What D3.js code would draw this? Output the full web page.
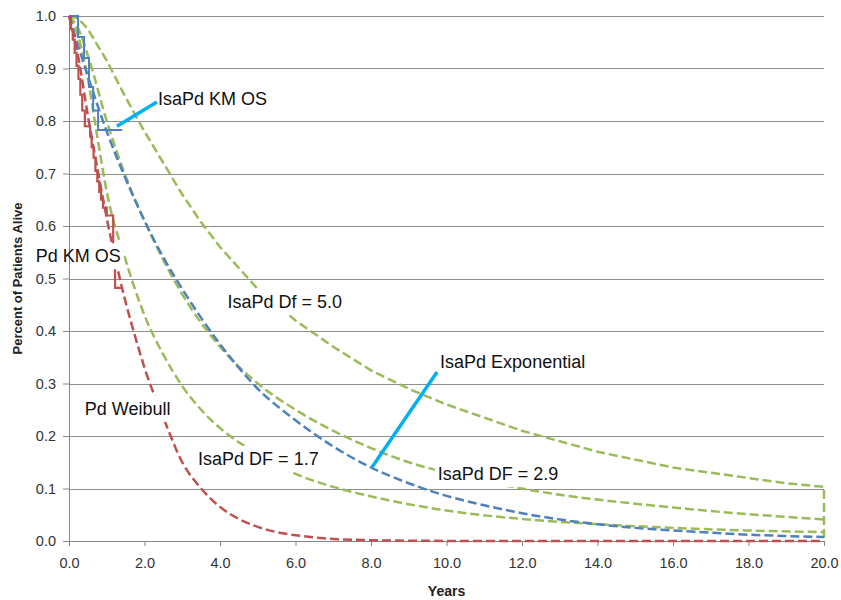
<!DOCTYPE html>
<html lang="en">
<head>
  <meta charset="UTF-8">
  <title>Survival extrapolation</title>
  <script src="https://cdn.jsdelivr.net/npm/d3@7/dist/d3.min.js"></script>
  <style>
  body { margin: 0; background: #fff; }
  svg { font-family: "Liberation Sans", Arial, sans-serif; }
  .tick text { fill: #333; font-size: 14.5px; }
  .axis path, .axis line { stroke: #868686; }
  .grid line { stroke: #8e8e8e; stroke-width: 1; }
  .axis-title { font-weight: bold; fill: #222; }
  .label { font-size: 18px; fill: #111; }
  </style>
</head>
<body>
<div id="chart"></div>
<script>
// [years, proportion alive]
const pdKM = [[0,1],[0.05,0.975],[0.1,0.955],[0.15,0.93],[0.2,0.905],[0.25,0.88],[0.3,0.85],
  [0.35,0.82],[0.42,0.79],[0.56,0.77],[0.6,0.75],[0.65,0.73],[0.7,0.705],[0.75,0.685],
  [0.8,0.665],[0.85,0.65],[0.9,0.635],[1.0,0.62],[1.17,0.55],[1.22,0.482],[1.4,0.482]];
const isaKM = [[0,1],[0.24,0.96],[0.4,0.92],[0.53,0.865],[0.64,0.82],[0.77,0.783],[1.41,0.783]];
const pdWeibull = [[0,1],[0.25,0.92],[0.5,0.81],[0.75,0.71],[1,0.615],[1.25,0.53],[1.5,0.455],
  [1.75,0.39],[2,0.33],[2.5,0.235],[3,0.15],[3.5,0.1],[4,0.065],[4.5,0.042],[5,0.027],
  [5.5,0.017],[6,0.011],[7,0.004],[8,0.0015],[9,0.0005],[10,0.0002],[12,0],[20,0]];
const isaExp = [[0,1],[0.5,0.885],[1,0.78],[1.5,0.69],[2,0.61],[2.5,0.54],[3,0.48],[3.5,0.425],
  [4,0.375],[5,0.29],[6,0.23],[7,0.18],[8,0.14],[9,0.11],[10,0.086],[11,0.068],[12,0.053],
  [13,0.041],[14,0.032],[15,0.025],[16,0.02],[17,0.016],[18,0.012],[19,0.0095],[20,0.0075]];
const df17 = [[0,1],[0.25,0.96],[0.5,0.88],[0.75,0.77],[1,0.665],[1.5,0.535],[2,0.43],[2.5,0.355],
  [3,0.295],[3.5,0.25],[4,0.215],[4.5,0.188],[5,0.165],[6,0.128],[7,0.103],[8,0.085],[9,0.07],
  [10,0.058],[12,0.042],[14,0.032],[16,0.025],[18,0.02],[20,0.017]];
const df29 = [[0,1],[0.25,0.975],[0.5,0.925],[1,0.8],[1.5,0.695],[2,0.61],[3,0.47],[4,0.37],
  [5,0.3],[6,0.25],[7,0.21],[8,0.177],[9,0.15],[10,0.13],[11,0.113],[12,0.1],[13,0.088],
  [14,0.079],[15,0.071],[16,0.064],[17,0.057],[18,0.051],[19,0.046],[20,0.041]];
const df50 = [[0,1],[0.25,0.995],[0.5,0.975],[1,0.915],[1.5,0.845],[2,0.78],[2.5,0.72],[3,0.66],
  [3.5,0.607],[4,0.56],[5,0.48],[6,0.42],[7,0.37],[8,0.325],[9,0.29],[10,0.26],[11,0.235],
  [12,0.21],[13,0.19],[14,0.17],[15,0.155],[16,0.14],[17,0.13],[18,0.12],[19,0.11],[20,0.103],[20,0]];

const xTicks = [0,2,4,6,8,10,12,14,16,18,20];
const yTicks = [0,0.1,0.2,0.3,0.4,0.5,0.6,0.7,0.8,0.9,1.0];

// text labels: left edge / baseline in data units
const labels = [
  { text: 'IsaPd KM OS', t: 2.36, s: 0.83 },
  { text: 'Pd KM OS', t: -0.88, s: 0.531 },
  { text: 'IsaPd Df = 5.0', t: 4.2, s: 0.444 },
  { text: 'IsaPd Exponential', t: 9.83, s: 0.33 },
  { text: 'Pd Weibull', t: 0.42, s: 0.24 },
  { text: 'IsaPd DF = 1.7', t: 3.42, s: 0.145 },
  { text: 'IsaPd DF = 2.9', t: 9.77, s: 0.116 },
];
const leaders = [
  { from: [2.33, 0.836], to: [1.27, 0.79] },
  { from: [9.75, 0.322], to: [8.03, 0.141] },
];

const W = 841, H = 600;
const margin = { top: 16, right: 17, bottom: 59, left: 69 };

const x = d3.scaleLinear().domain([0, 20]).range([margin.left, W - margin.right]);
const y = d3.scaleLinear().domain([0, 1]).range([H - margin.bottom, margin.top]);

const svg = d3.select('#chart').append('svg').attr('width', W).attr('height', H);

// mask so labels cut gaps into the curves (gridlines stay)
const mask = svg.append('defs').append('mask')
  .attr('id', 'label-mask').attr('maskUnits', 'userSpaceOnUse')
  .attr('x', 0).attr('y', 0).attr('width', W).attr('height', H);
mask.append('rect').attr('width', W).attr('height', H).attr('fill', 'white');

// gridlines
svg.append('g').attr('class', 'grid')
  .selectAll('line').data(yTicks.filter(d => d > 0)).join('line')
    .attr('x1', x(0)).attr('x2', x(20))
    .attr('y1', d => Math.round(y(d)) + 0.5).attr('y2', d => Math.round(y(d)) + 0.5);

// axes
svg.append('g').attr('class', 'axis')
  .attr('transform', `translate(0,${y(0)})`)
  .call(d3.axisBottom(x).tickValues(xTicks).tickFormat(d3.format('.1f'))
    .tickSize(5).tickSizeOuter(0).tickPadding(12));
svg.append('g').attr('class', 'axis')
  .attr('transform', `translate(${x(0)},0)`)
  .call(d3.axisLeft(y).tickValues(yTicks).tickFormat(d3.format('.1f'))
    .tickSize(6).tickSizeOuter(0).tickPadding(7));

svg.append('text').attr('class', 'axis-title')
  .attr('x', (x(0) + x(20)) / 2).attr('y', 596)
  .attr('text-anchor', 'middle').attr('font-size', 14)
  .text('Years');
svg.append('text').attr('class', 'axis-title')
  .attr('transform', `translate(22,${(y(0) + y(1)) / 2}) rotate(-90)`)
  .attr('text-anchor', 'middle').attr('font-size', 13)
  .text('Percent of Patients Alive');

// series
const smooth = d3.line().x(d => x(d[0])).y(d => y(d[1])).curve(d3.curveMonotoneX);
const straight = d3.line().x(d => x(d[0])).y(d => y(d[1]));
const step = d3.line().x(d => x(d[0])).y(d => y(d[1])).curve(d3.curveStepAfter);

const series = [
  { data: df17, color: '#9BBB59', line: smooth, dash: '9,4', width: 2.5 },
  { data: df29, color: '#9BBB59', line: smooth, dash: '9,4', width: 2.5 },
  { data: df50, color: '#9BBB59', line: straight, dash: '9,4', width: 2.5 },
  { data: isaExp, color: '#4F81BD', line: smooth, dash: '9,4', width: 2.5 },
  { data: pdWeibull, color: '#C0504D', line: smooth, dash: '9,4', width: 2.5 },
  { data: isaKM, color: '#4F81BD', line: step, dash: null, width: 2 },
  { data: pdKM, color: '#C0504D', line: step, dash: null, width: 2.2 },
];

svg.append('g').attr('mask', 'url(#label-mask)')
  .selectAll('path').data(series).join('path')
    .attr('d', d => d.line(d.data))
    .attr('fill', 'none')
    .attr('stroke', d => d.color)
    .attr('stroke-width', d => d.width)
    .attr('stroke-dasharray', d => d.dash);

// leader lines
svg.append('g').selectAll('line').data(leaders).join('line')
  .attr('x1', d => x(d.from[0])).attr('y1', d => y(d.from[1]))
  .attr('x2', d => x(d.to[0])).attr('y2', d => y(d.to[1]))
  .attr('stroke', '#00B0F0').attr('stroke-width', 3.5);

// labels
svg.append('g').selectAll('text').data(labels).join('text')
  .attr('class', 'label')
  .attr('x', d => x(d.t)).attr('y', d => y(d.s))
  .text(d => d.text)
  .each(function() {
    const b = this.getBBox();
    mask.append('rect')
      .attr('x', b.x - 3).attr('y', b.y - 3)
      .attr('width', b.width + 6).attr('height', b.height + 6)
      .attr('fill', 'black');
  });
</script>
</body>
</html>
